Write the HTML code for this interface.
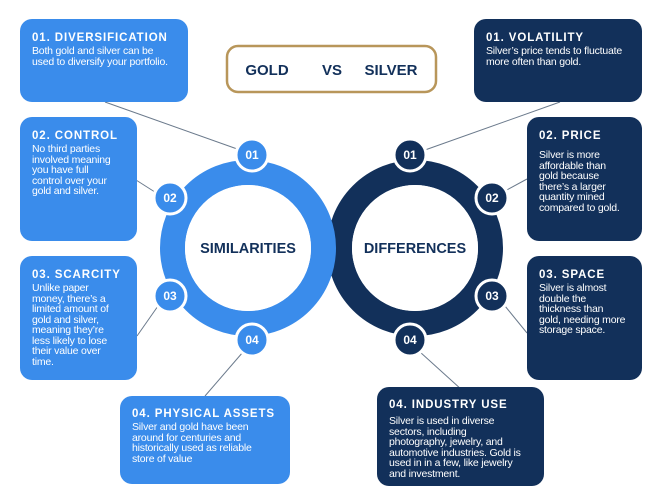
<!DOCTYPE html>
<html><head><style>
body{margin:0;width:663px;height:497px;background:#fff;position:relative;overflow:hidden;font-family:"Liberation Sans",sans-serif}
.b{position:absolute;border-radius:12px;color:#fff;box-sizing:border-box;padding:13px 0 0 12px}
.bl{background:#3a8ceb}.dk{background:#12305a}
.b h3{margin:0 0 2px;font-size:11.5px;letter-spacing:0.9px;font-weight:bold;white-space:nowrap}
.b p{margin:0;font-size:10.5px;line-height:10.5px;letter-spacing:-0.2px}
</style></head><body>
<svg width="663" height="497" style="position:absolute;left:0;top:0">
<g stroke="#6b7a8c" stroke-width="1">
<line x1="105" y1="102" x2="240" y2="150"/><line x1="136" y1="180" x2="158" y2="194"/>
<line x1="137" y1="336" x2="158" y2="306"/><line x1="205" y1="396" x2="243" y2="352"/>
<line x1="425" y1="150" x2="560" y2="102"/><line x1="505" y1="191" x2="527" y2="179"/>
<line x1="505" y1="306" x2="527" y2="333"/><line x1="420" y1="352" x2="462" y2="390"/>
</g>
<circle cx="415" cy="248" r="75.5" fill="none" stroke="#12305a" stroke-width="25"/>
<circle cx="248" cy="248" r="75.5" fill="none" stroke="#3a8ceb" stroke-width="25"/>
<circle cx="248" cy="248" r="63" fill="#fff"/>
<circle cx="415" cy="248" r="63" fill="#fff"/>
<g stroke="#fff" stroke-width="3">
<circle cx="252" cy="155" r="16" fill="#3a8ceb"/><circle cx="170" cy="198" r="16" fill="#3a8ceb"/>
<circle cx="170" cy="296" r="16" fill="#3a8ceb"/><circle cx="252" cy="340" r="16" fill="#3a8ceb"/>
<circle cx="410" cy="155" r="16" fill="#12305a"/><circle cx="492" cy="198" r="16" fill="#12305a"/>
<circle cx="492" cy="296" r="16" fill="#12305a"/><circle cx="410" cy="340" r="16" fill="#12305a"/>
</g>
<g fill="#fff" font-family="Liberation Sans" font-weight="bold" font-size="12" text-anchor="middle">
<text x="252" y="159">01</text><text x="170" y="202">02</text><text x="170" y="300">03</text><text x="252" y="344">04</text>
<text x="410" y="159">01</text><text x="492" y="202">02</text><text x="492" y="300">03</text><text x="410" y="344">04</text>
</g>
<g fill="#12305a" font-family="Liberation Sans" font-weight="bold" font-size="14.5" text-anchor="middle">
<text x="248" y="253">SIMILARITIES</text><text x="415" y="253">DIFFERENCES</text>
</g>
<rect x="227" y="46" width="209" height="46" rx="11" fill="#fff" stroke="#b8965a" stroke-width="2.5"/>
<g fill="#12305a" font-family="Liberation Sans" font-weight="bold" font-size="15" text-anchor="middle">
<text x="267" y="75">GOLD</text><text x="332" y="75">VS</text><text x="391" y="75">SILVER</text>
</g>
</svg>
<div class="b bl" style="left:20px;top:19px;width:168px;height:83px"><h3>01. DIVERSIFICATION</h3><p>Both gold and silver can be<br>used to diversify your portfolio.</p></div>
<div class="b bl" style="left:20px;top:117px;width:117px;height:124px"><h3>02. CONTROL</h3><p>No third parties<br>involved meaning<br>you have full<br>control over your<br>gold and silver.</p></div>
<div class="b bl" style="left:20px;top:256px;width:117px;height:124px"><h3>03. SCARCITY</h3><p>Unlike paper<br>money, there’s a<br>limited amount of<br>gold and silver,<br>meaning they’re<br>less likely to lose<br>their value over<br>time.</p></div>
<div class="b bl" style="left:120px;top:396px;width:170px;height:88px;padding-top:12px"><h3>04. PHYSICAL ASSETS</h3><p>Silver and gold have been<br>around for centuries and<br>historically used as reliable<br>store of value</p></div>
<div class="b dk" style="left:474px;top:19px;width:168px;height:83px"><h3>01. VOLATILITY</h3><p>Silver’s price tends to fluctuate<br>more often than gold.</p></div>
<div class="b dk" style="left:527px;top:117px;width:115px;height:124px"><h3 style="margin-bottom:8px">02. PRICE</h3><p>Silver is more<br>affordable than<br>gold because<br>there’s a larger<br>quantity mined<br>compared to gold.</p></div>
<div class="b dk" style="left:527px;top:256px;width:115px;height:124px"><h3>03. SPACE</h3><p>Silver is almost<br>double the<br>thickness than<br>gold, needing more<br>storage space.</p></div>
<div class="b dk" style="left:377px;top:387px;width:167px;height:99px;padding-top:12px"><h3 style="margin-bottom:5px">04. INDUSTRY USE</h3><p>Silver is used in diverse<br>sectors, including<br>photography, jewelry, and<br>automotive industries. Gold is<br>used in in a few, like jewelry<br>and investment.</p></div>
</body></html>
